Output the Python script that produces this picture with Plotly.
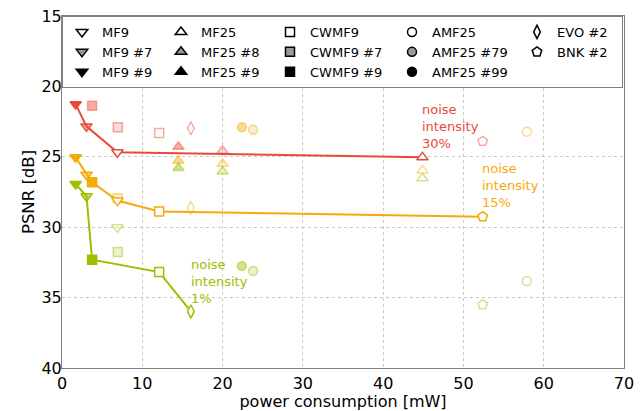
import plotly.graph_objects as go

# ---------------- data ----------------
methods = ["MF9", "MF9 #7", "MF9 #9",
           "MF25", "MF25 #8", "MF25 #9",
           "CWMF9", "CWMF9 #7", "CWMF9 #9",
           "AMF25", "AMF25 #79", "AMF25 #99",
           "EVO #2", "BNK #2"]
power_mw = [6.9, 3.05, 1.7,
            44.9, 20.0, 14.5,
            12.1, 6.95, 3.75,
            57.9, 23.8, 22.4,
            16.05, 52.4]
psnr_30 = [24.68, 22.84, 21.26,
           25.04, 24.57, 24.28,
           23.31, 22.91, 21.38,
           None, None, None,
           22.98, 23.90]
psnr_15 = [28.11, 26.27, 25.04,
           25.98, 25.50, 25.28,
           28.89, 27.94, 26.81,
           23.22, 23.08, 22.90,
           28.63, 29.25]
psnr_1 = [30.00, 27.80, 26.93,
          26.52, 26.05, 25.80,
          33.19, 31.77, 32.31,
          33.82, 33.11, 32.76,
          35.98, 35.50]
front_30 = ["MF9 #9", "MF9 #7", "MF9", "MF25"]
front_15 = ["MF9 #9", "MF9 #7", "CWMF9 #9", "MF9", "CWMF9", "BNK #2"]
front_1 = ["MF9 #9", "MF9 #7", "CWMF9 #9", "CWMF9", "EVO #2"]
noise_pcts = ["30%", "15%", "1%"]
label_x = [44.6, 52.1, 15.85]
label_y = [22.84, 27.05, 33.87]
legend_columns = [["MF9", "MF9 #7", "MF9 #9"],
                  ["MF25", "MF25 #8", "MF25 #9"],
                  ["CWMF9", "CWMF9 #7", "CWMF9 #9"],
                  ["AMF25", "AMF25 #79", "AMF25 #99"],
                  ["EVO #2", "BNK #2"]]

# ---------------- styles ----------------
FONT = "DejaVu Sans"
symbol_of = {"MF9": "triangle-down", "MF25": "triangle-up", "CWMF9": "square",
             "AMF25": "circle", "EVO": "diamond-tall", "BNK": "pentagon"}
size_of = {"triangle-down": 10, "triangle-up": 10, "square": 9, "circle": 9,
           "diamond-tall": 9.5, "pentagon": 10}
column_widths = [54, 64, 77, 80, 60]


def style_of(m):
    if m.startswith("EVO") or m.startswith("BNK") or "#" not in m:
        return "open"
    tag = m.split("#")[1]
    return "filled" if tag in ("9", "99") else "hatched"


def sym(m):
    return symbol_of[m.split(" ")[0]]


series = [
    (psnr_30, front_30, (232, 74, 58)),
    (psnr_15, front_15, (245, 170, 12)),
    (psnr_1, front_1, (155, 192, 0)),
]


def rgba(c, a):
    return "rgba(%d,%d,%d,%.2f)" % (c[0], c[1], c[2], a)


fig = go.Figure()

# lines (Pareto fronts)
for vals, front, col in series:
    xs = [power_mw[methods.index(m)] for m in front]
    ys = [vals[methods.index(m)] for m in front]
    fig.add_trace(go.Scatter(x=xs, y=ys, mode="lines", showlegend=False,
                             line=dict(color=rgba(col, 1), width=2),
                             hoverinfo="skip"))

# markers: light ones first, then dark ones
for dark_pass in (False, True):
    for vals, front, col in series:
        for m, p, v in zip(methods, power_mw, vals):
            if v is None:
                continue
            dark = m in front
            if dark != dark_pass:
                continue
            st = style_of(m)
            a = 1.0 if dark else 0.45
            if st == "filled":
                fill, edge = rgba(col, a), rgba(col, a)
            elif st == "hatched":
                fill, edge = rgba(col, 0.45 * a), rgba(col, a)
            else:
                fill, edge = "rgba(255,255,255,1)" if dark else "rgba(255,255,255,0)", rgba(col, a)
            s = sym(m)
            fig.add_trace(go.Scatter(
                x=[p], y=[v], mode="markers", showlegend=False, name=m,
                marker=dict(symbol=s, size=size_of[s], color=fill,
                            line=dict(color=edge, width=1.5))))

# legend entries (black markers), one legend group per column
for ci, column in enumerate(legend_columns):
    for m in column:
        st = style_of(m)
        s = sym(m)
        if st == "filled":
            fill = "black"
        elif st == "hatched":
            fill = "rgba(0,0,0,0.4)"
        else:
            fill = "white"
        fig.add_trace(go.Scatter(
            x=[None], y=[None], mode="markers", name=m, showlegend=True,
            legendgroup="col%d" % ci, legendwidth=column_widths[ci],
            marker=dict(symbol=s, size=size_of[s], color=fill,
                        line=dict(color="black", width=1.5))))

# noise-intensity labels
for (vals, front, col), pct, lx, ly in zip(series, noise_pcts, label_x, label_y):
    fig.add_annotation(x=lx, y=ly, text="noise<br>intensity<br>" + pct, showarrow=False,
                       xanchor="left", yanchor="middle", align="left",
                       font=dict(family=FONT, size=13, color=rgba(col, 1)))

axis_common = dict(showline=True, linecolor="#808080", linewidth=1, mirror=True,
                   showgrid=True, gridcolor="#c8c8c8", griddash="dot", gridwidth=1,
                   zeroline=False, ticks="", automargin=False,
                   tickfont=dict(family=FONT, size=16, color="black"))

fig.update_layout(
    width=643, height=411,
    margin=dict(l=62, r=19, t=16, b=43, autoexpand=False),
    paper_bgcolor="white", plot_bgcolor="white",
    font=dict(family=FONT, color="black"),
    xaxis=dict(range=[0, 70], dtick=10, tick0=0, ticklabelstandoff=1,
               title=dict(text="power consumption [mW]", font=dict(family=FONT, size=16), standoff=0),
               **axis_common),
    yaxis=dict(range=[40, 15], dtick=5, tick0=15, ticklabelstandoff=-4,
               title=dict(text="PSNR [dB]", font=dict(family=FONT, size=16.5), standoff=2),
               **axis_common),
    legend=dict(orientation="h", x=0, y=1, xanchor="left", yanchor="top",
                bgcolor="white", bordercolor="#808080", borderwidth=1,
                font=dict(family=FONT, size=13, color="black"),
                tracegroupgap=0, itemsizing="trace"),
)

fig.write_html("out.html")
